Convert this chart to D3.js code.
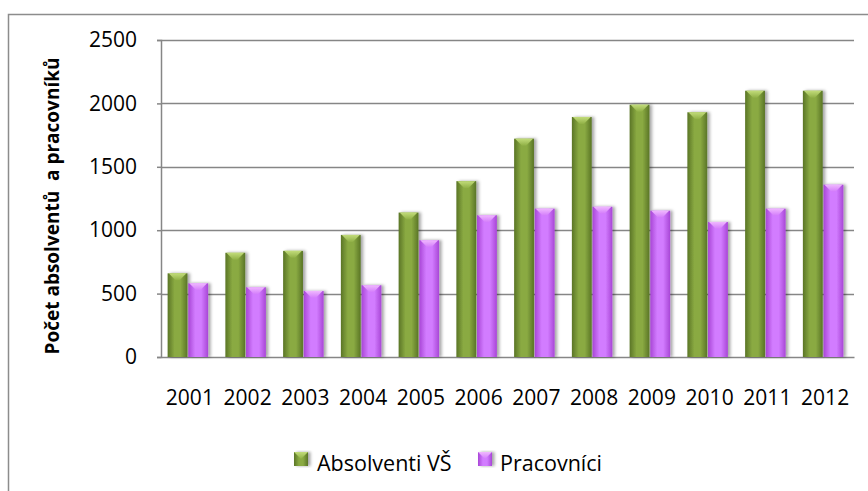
<!DOCTYPE html>
<html>
<head>
<meta charset="utf-8">
<script src="https://cdn.jsdelivr.net/npm/d3@7"></script>
<style>
  body { margin: 0; background: #fff; }
</style>
</head>
<body>
<div id="chart"></div>
<script>
// data
var years = ["2001", "2002", "2003", "2004", "2005", "2006", "2007", "2008", "2009", "2010", "2011", "2012"];
var absolventi = [660, 822, 837, 963, 1139, 1387, 1722, 1893, 1990, 1930, 2100, 2100];
var pracovnici = [581, 550, 521, 566, 921, 1118, 1170, 1185, 1154, 1065, 1170, 1359];
var seriesNames = ["Absolventi VŠ", "Pracovníci"];
var yTicks = [0, 500, 1000, 1500, 2000, 2500];

var svgWidth = 868;
var svgHeight = 491;

var margin = { top: 40, right: 14, bottom: 134, left: 161 };
var width = svgWidth - margin.left - margin.right;
var height = svgHeight - margin.top - margin.bottom;

var svg = d3.select("#chart")
  .append("svg")
  .attr("width", svgWidth)
  .attr("height", svgHeight);

// gradients for the bevelled columns
var defs = svg.append("defs");
var palette = {
  "Absolventi VŠ": { edge: "#5a7526", mid: "#8aaa42", top: "#c2dc7a", topEdge: "#90b046" },
  "Pracovníci": { edge: "#a846d6", mid: "#d27cff", top: "#f0b8ff", topEdge: "#d37cfb" }
};
seriesNames.forEach(function(name, i) {
  var c = palette[name];
  var g = defs.append("linearGradient").attr("id", "body" + i)
    .attr("x1", "0%").attr("x2", "100%").attr("y1", "0%").attr("y2", "0%");
  g.append("stop").attr("offset", "0%").attr("stop-color", c.edge);
  g.append("stop").attr("offset", "35%").attr("stop-color", c.mid);
  g.append("stop").attr("offset", "65%").attr("stop-color", c.mid);
  g.append("stop").attr("offset", "100%").attr("stop-color", c.edge);
  var t = defs.append("linearGradient").attr("id", "top" + i)
    .attr("x1", "0%").attr("x2", "0%").attr("y1", "0%").attr("y2", "100%");
  t.append("stop").attr("offset", "0%").attr("stop-color", c.top);
  t.append("stop").attr("offset", "100%").attr("stop-color", c.topEdge);
});
var shadow = defs.append("filter").attr("id", "shadow")
  .attr("x", "-30%").attr("y", "-10%").attr("width", "170%").attr("height", "120%");
shadow.append("feDropShadow")
  .attr("dx", 2.5).attr("dy", 0).attr("stdDeviation", 1.5)
  .attr("flood-color", "#000").attr("flood-opacity", 0.35);

// outer frame (runs off the right and bottom edge)
svg.append("rect")
  .attr("x", 8.5).attr("y", 14.5)
  .attr("width", 900).attr("height", 520)
  .attr("fill", "none")
  .attr("stroke", "#8c8c8c")
  .attr("stroke-width", 1.5);

var chartGroup = svg.append("g")
  .attr("transform", `translate(${margin.left}, ${margin.top})`);

// scales
var xScale = d3.scaleBand()
  .domain(years)
  .range([0, width])
  .paddingInner(0.27)
  .paddingOuter(0.135);

var xSub = d3.scaleBand()
  .domain(seriesNames)
  .range([-2, xScale.bandwidth() - 2])
  .padding(0.04);

var yScale = d3.scaleLinear()
  .domain([0, 2500])
  .range([height, 0]);

// gridlines
chartGroup.append("g")
  .selectAll("line")
  .data(yTicks.filter(d => d > 0))
  .enter()
  .append("line")
  .attr("x1", 0)
  .attr("x2", width)
  .attr("y1", d => Math.round(yScale(d)) + 0.5)
  .attr("y2", d => Math.round(yScale(d)) + 0.5)
  .attr("stroke", "#868686")
  .attr("stroke-width", 1.5);

// y axis
var leftAxis = d3.axisLeft(yScale)
  .tickValues(yTicks)
  .tickSize(4)
  .tickPadding(20)
  .tickFormat(d3.format("d"));

var yAxisG = chartGroup.append("g")
  .call(leftAxis);
yAxisG.attr("font-family", "Open Sans").attr("font-size", 21);
yAxisG.select(".domain").attr("stroke", "#868686").attr("stroke-width", 1.5);
yAxisG.selectAll(".tick line").attr("stroke", "#868686").attr("stroke-width", 1.5);
yAxisG.selectAll(".tick text").attr("fill", "#000");

// x axis
var bottomAxis = d3.axisBottom(xScale)
  .tickSize(0)
  .tickPadding(33);

var xAxisG = chartGroup.append("g")
  .attr("transform", `translate(0, ${height})`)
  .call(bottomAxis);
xAxisG.attr("font-family", "Open Sans").attr("font-size", 21);
xAxisG.select(".domain").attr("stroke", "#868686").attr("stroke-width", 1.5);
xAxisG.selectAll(".tick text").attr("fill", "#000");

// bars
var rows = years.map(function(y, i) {
  return { year: y, values: [absolventi[i], pracovnici[i]] };
});

var groups = chartGroup.selectAll(".year")
  .data(rows)
  .enter()
  .append("g")
  .attr("class", "year")
  .attr("transform", d => `translate(${xScale(d.year)}, 0)`);

var bars = groups.selectAll(".bar")
  .data(d => d.values.map(function(v, i) { return { name: seriesNames[i], i: i, value: v }; }))
  .enter()
  .append("g")
  .attr("class", "bar")
  .attr("filter", "url(#shadow)");

bars.append("rect")
  .attr("x", d => xSub(d.name))
  .attr("y", d => yScale(d.value))
  .attr("width", xSub.bandwidth())
  .attr("height", d => height - yScale(d.value))
  .attr("fill", d => `url(#body${d.i})`);

// bevel on top of each column
bars.append("path")
  .attr("d", function(d) {
    var x0 = xSub(d.name), x1 = x0 + xSub.bandwidth(), y0 = yScale(d.value);
    var xm = (x0 + x1) / 2;
    return `M${x0 + 1},${y0}L${x1 - 1},${y0}L${xm + 2},${y0 + 7}L${xm - 2},${y0 + 7}Z`;
  })
  .attr("fill", d => `url(#top${d.i})`);

// y axis title
svg.append("text")
  .attr("transform", "translate(59, 206) rotate(-90)")
  .attr("text-anchor", "middle")
  .attr("font-family", "Open Sans")
  .attr("font-weight", "bold")
  .attr("font-size", 19)
  .attr("xml:space", "preserve")
  .text("Počet absolventů  a pracovníků");

// legend
var legendItems = [
  { name: seriesNames[0], i: 0, x: 294, tx: 317 },
  { name: seriesNames[1], i: 1, x: 478, tx: 500 }
];
var legend = svg.append("g");
legend.selectAll("rect")
  .data(legendItems)
  .enter()
  .append("rect")
  .attr("x", d => d.x)
  .attr("y", 452)
  .attr("width", 14)
  .attr("height", 14)
  .attr("fill", d => `url(#body${d.i})`)
  .attr("filter", "url(#shadow)");
legend.selectAll("path")
  .data(legendItems)
  .enter()
  .append("path")
  .attr("d", d => `M${d.x},452L${d.x + 14},452L${d.x + 7},459Z`)
  .attr("fill", d => `url(#top${d.i})`);
legend.selectAll("text")
  .data(legendItems)
  .enter()
  .append("text")
  .attr("x", d => d.tx)
  .attr("y", 471)
  .attr("font-family", "Open Sans")
  .attr("font-size", 21.5)
  .attr("fill", "#000")
  .text(d => d.name);
</script>
</body>
</html>
